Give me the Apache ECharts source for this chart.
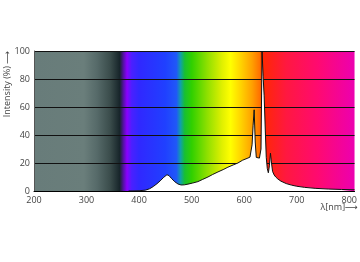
<!DOCTYPE html>
<html>
<head>
<meta charset="utf-8">
<script src="https://cdn.jsdelivr.net/npm/echarts@6/dist/echarts.min.js"></script>
<style>html,body{margin:0;padding:0;background:#fff}#c{width:360px;height:262px}</style>
</head>
<body>
<div id="c"></div>
<script>
var wavelengths = [380, 400, 412, 420, 427, 434, 440, 447, 453, 457, 462, 468, 474, 480, 486, 493, 502, 512, 521, 531, 540, 550, 560, 569, 579, 588, 597, 607, 611, 613, 615, 617, 619, 621, 623, 626, 629, 632, 634, 636, 638, 640, 642, 644, 646, 648, 650, 652, 654, 657, 660, 664, 670, 680, 690, 700, 715, 735, 760, 785, 810];
var intensity  = [0, 0.2, 0.6, 1.6, 3.2, 5.2, 7.2, 9.8, 11.6, 11.0, 8.8, 6.6, 5.0, 4.3, 4.4, 4.9, 5.7, 6.7, 8.3, 10.0, 11.8, 13.6, 15.3, 17.0, 18.6, 20.0, 22.0, 23.5, 24.2, 25.5, 33, 47, 58, 35, 24, 23.2, 23.5, 30, 100, 82, 68, 45, 24, 16, 13, 18, 27, 20, 14, 11.5, 10, 8.6, 7, 5.3, 4.2, 3.4, 2.6, 1.9, 1.4, 1.1, 0.9];
var yTicks = [0, 20, 40, 60, 80, 100];
var xTicks = [200, 300, 400, 500, 600, 700, 800];

var chart = echarts.init(document.getElementById('c'), null, {renderer: 'canvas'});
var xMin = 200, xMax = 810;
function off(nm) { return (nm - xMin) / (xMax - xMin); }
var stopsDef = [
  [200, '#687c7a'], [295, '#6a7e7b'], [320, '#566a69'], [345, '#3a4c4b'], [363, '#17252a'],
  [371, '#5a10b0'], [377, '#8a00ff'], [386, '#4a20ff'], [400, '#3028ff'], [450, '#2040ff'],
  [471, '#2058f8'], [479, '#10a0a8'], [487, '#18c030'], [500, '#30d000'], [530, '#90e000'],
  [558, '#e0f000'], [574, '#ffff00'], [595, '#ffd000'], [615, '#ffa000'], [630, '#ff7000'],
  [634, '#ff2800'], [680, '#ff1840'], [740, '#ff0a70'], [810, '#ec00b0']
];
var stops = stopsDef.map(function (s) { return {offset: off(s[0]), color: s[1]}; });

var data = wavelengths.map(function (w, i) { return [w, intensity[i]]; });
var font = '"Open Sans", "DejaVu Sans", sans-serif';

chart.setOption({
  animation: false,
  grid: {
    left: 34, right: 2, top: 51, bottom: 71, show: true, borderWidth: 0,
    backgroundColor: new echarts.graphic.LinearGradient(0, 0, 1, 0, stops)
  },
  xAxis: {
    type: 'value', min: xMin, max: xMax, interval: 100,
    axisLine: {show: true, lineStyle: {color: '#000', width: 1}},
    axisTick: {show: false},
    splitLine: {show: false},
    axisLabel: {
      color: '#444', fontSize: 9, fontFamily: font, margin: 5,
      formatter: function (v) { return xTicks.indexOf(v) >= 0 ? String(v) : ''; }
    }
  },
  yAxis: {
    type: 'value', min: 0, max: 100, interval: 20,
    axisLine: {show: true, lineStyle: {color: '#555', width: 1}},
    axisTick: {show: false},
    splitLine: {show: true, lineStyle: {color: '#111', width: 1}},
    axisLabel: {
      color: '#444', fontSize: 9, fontFamily: font, margin: 4,
      formatter: function (v) { return yTicks.indexOf(v) >= 0 ? String(v) : ''; }
    }
  },
  series: [{
    type: 'line', data: data, symbol: 'none', smooth: false, clip: true,
    lineStyle: {color: '#111', width: 1},
    areaStyle: {color: '#ffffff', opacity: 1}
  }],
  graphic: [
    {type: 'text', x: 358, y: 203, style: {text: 'λ[nm]⟶', font: '9px ' + font, fill: '#444', textAlign: 'right'}},
    {type: 'text', x: 7, y: 84, rotation: Math.PI / 2, style: {text: 'Intensity (%) ⟶', font: '9px ' + font, fill: '#444', textAlign: 'center', textVerticalAlign: 'middle'}}
  ]
});
</script>
</body>
</html>
